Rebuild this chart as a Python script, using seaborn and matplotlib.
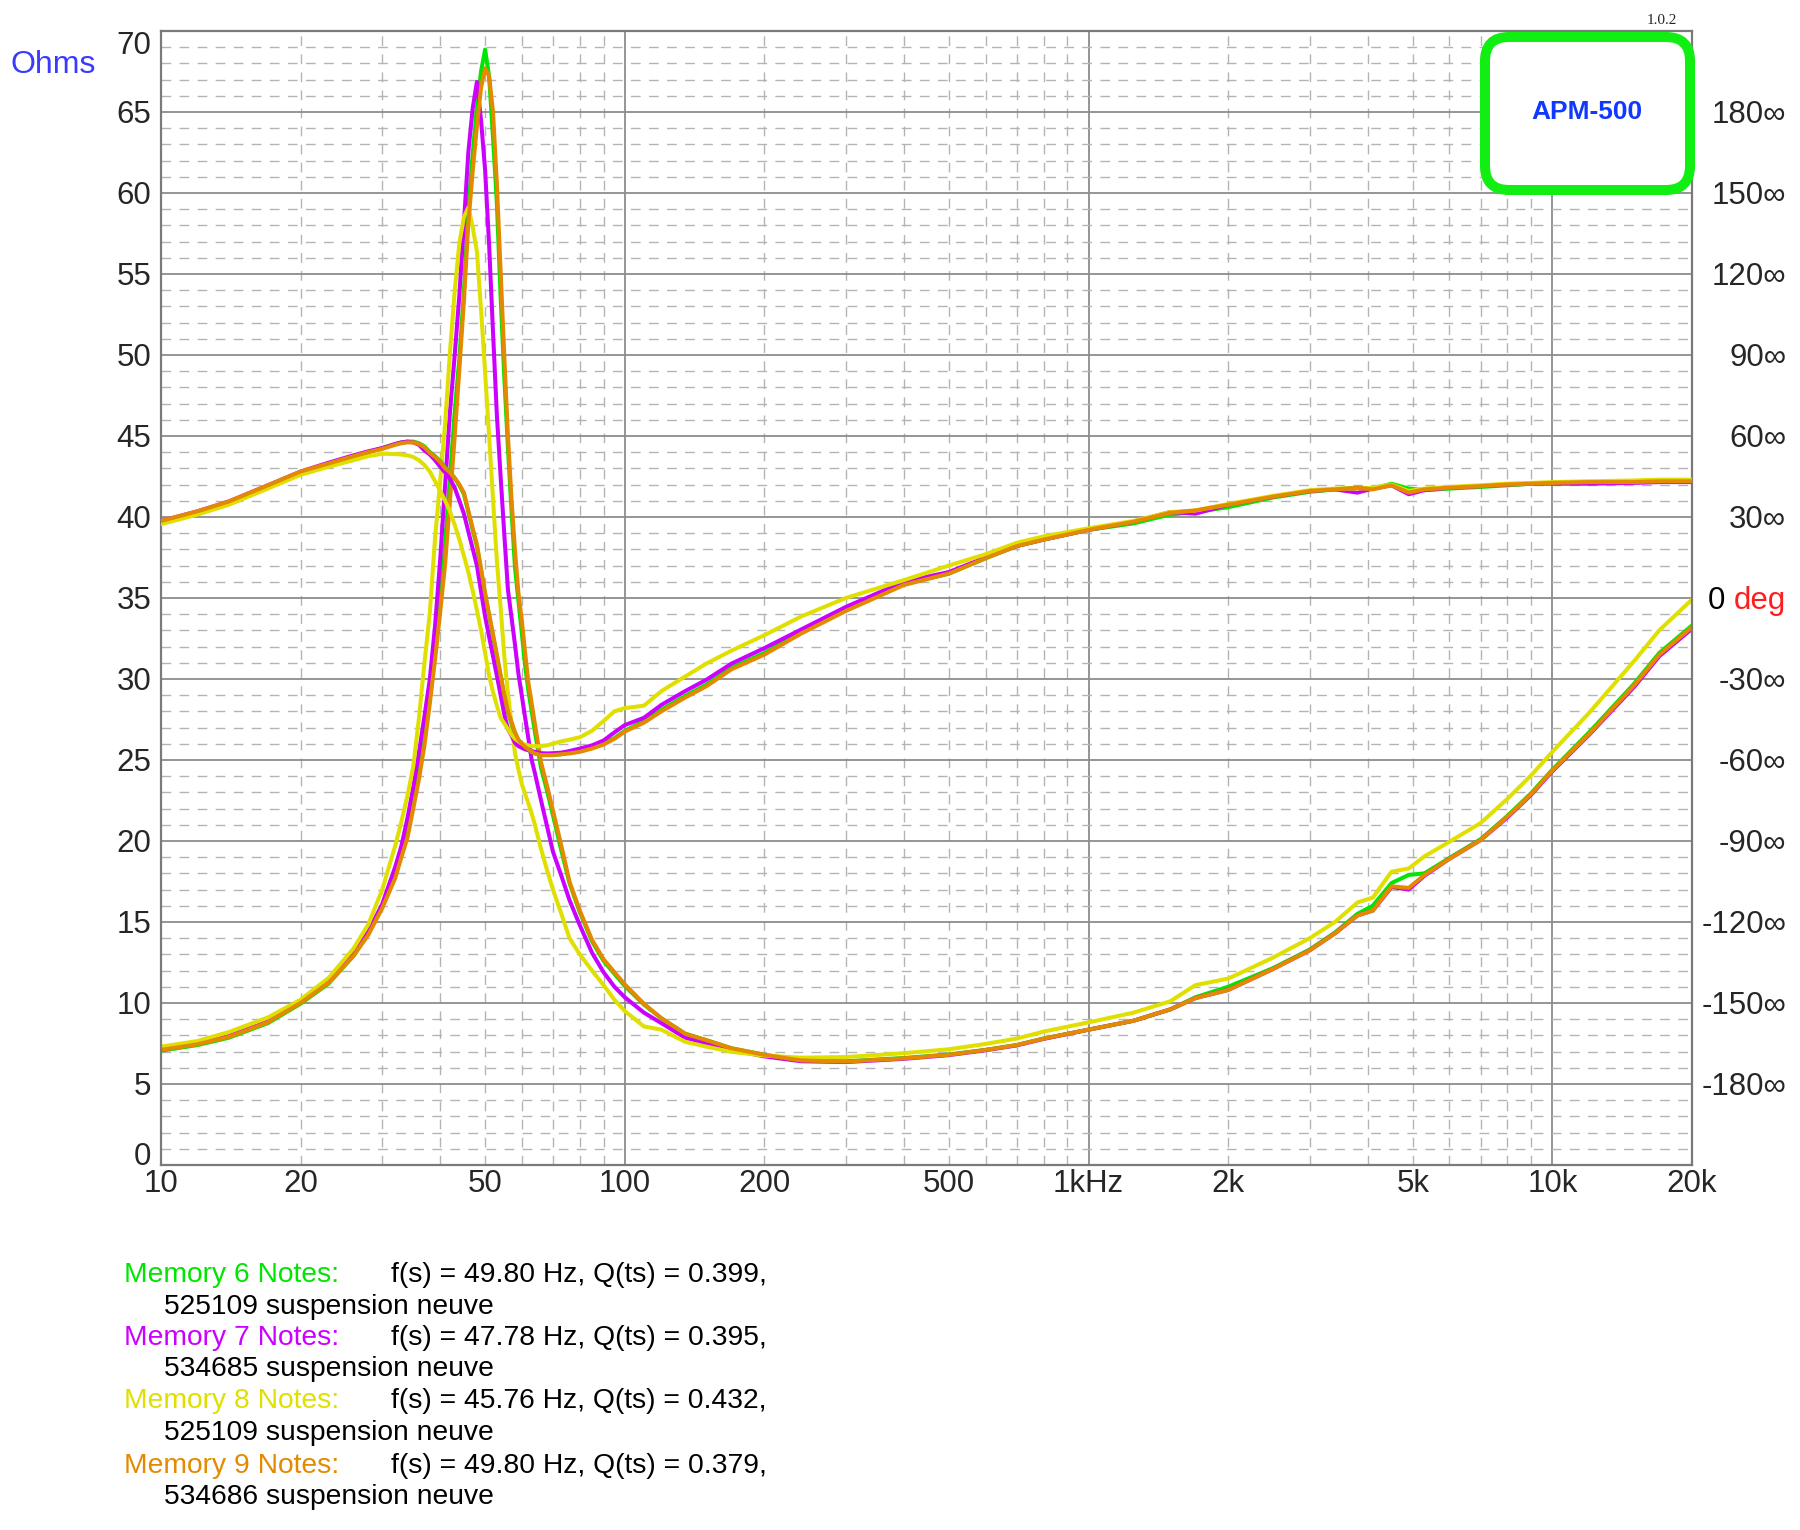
import numpy as np
import pandas as pd
import seaborn as sns
import matplotlib.pyplot as plt
from matplotlib.ticker import FixedLocator, FuncFormatter, MultipleLocator, LogLocator
from matplotlib.patches import FancyBboxPatch

# frequency points (Hz) shared by all memories
freq = [10, 12, 14, 17, 20, 23, 26, 28, 30, 32,
        33, 34, 35, 36, 37, 38, 39, 40, 41, 42,
        43, 44, 45, 46, 47, 48, 49, 50, 51, 52,
        53, 54, 55, 56, 57, 58, 59, 60, 61, 62,
        63, 64, 66, 68, 70, 73, 76, 80, 85, 90,
        95, 100, 110, 120, 135, 150, 170, 200, 240, 300,
        400, 500, 600, 700, 800, 1000, 1250, 1500, 1700, 2000,
        2500, 3000, 3400, 3800, 4100, 4500, 4900, 5300, 6000, 7000,
        8000, 9000, 10000, 12000, 15000, 17000, 20000]

# impedance magnitude (ohms)
mem6_ohms = [7.05, 7.4, 7.85, 8.75, 9.95, 11.2, 12.9, 14.3, 15.95, 17.9,
             19.2, 20.4, 22.2, 24.1, 26.2, 28.8, 31.6, 34.6, 38.4, 42.5,
             46.5, 49.8, 53.9, 59.0, 62.4, 65.3, 67.5, 68.85, 67.2, 63.4,
             59.4, 53.6, 48.6, 44.25, 40.4, 36.85, 34.8, 32.8, 30.8, 29.25,
             28.0, 26.75, 24.5, 23.1, 21.6, 19.4, 17.4, 15.6, 13.8, 12.6,
             11.8, 11.05, 9.9, 9.05, 8.1, 7.7, 7.2, 6.8, 6.45, 6.4,
             6.6, 6.82, 7.1, 7.4, 7.8, 8.35, 8.9, 9.6, 10.35, 11.0,
             12.15, 13.3, 14.35, 15.5, 16.0, 17.4, 17.9, 18.0, 18.95, 20.1,
             21.55, 22.95, 24.4, 26.7, 29.7, 31.6, 33.3]
mem7_ohms = [7.1, 7.5, 7.95, 8.85, 10.05, 11.35, 13.1, 14.4, 16.1, 18.4,
             19.7, 21.4, 23.3, 25.45, 27.7, 30.0, 33.3, 37.35, 42.0, 46.5,
             50.0, 53.7, 58.1, 62.5, 65.2, 66.85, 64.5, 61.4, 56.8, 51.4,
             46.3, 42.5, 38.9, 35.5, 33.8, 32.1, 30.3, 28.95, 27.6, 26.3,
             25.0, 24.2, 22.5, 20.9, 19.35, 17.85, 16.35, 14.8, 13.1, 11.9,
             11.0, 10.35, 9.4, 8.75, 7.85, 7.5, 7.1, 6.7, 6.4, 6.35,
             6.55, 6.78, 7.08, 7.38, 7.78, 8.35, 8.9, 9.6, 10.3, 10.8,
             12.1, 13.25, 14.3, 15.4, 15.7, 17.15, 17.0, 17.85, 18.9, 20.05,
             21.45, 22.85, 24.3, 26.55, 29.5, 31.4, 33.1]
mem8_ohms = [7.3, 7.65, 8.2, 9.1, 10.2, 11.55, 13.35, 14.85, 17.0, 19.7,
             21.2, 22.8, 24.6, 27.6, 31.0, 34.1, 38.7, 42.2, 45.8, 50.2,
             54.0, 56.9, 58.5, 59.1, 57.9, 56.4, 52.8, 48.9, 45.0, 41.1,
             37.3, 34.4, 31.4, 29.1, 27.2, 25.4, 24.4, 23.5, 22.9, 22.3,
             21.7, 21.0, 19.5, 18.2, 17.0, 15.5, 14.0, 13.0, 12.0, 11.1,
             10.2, 9.5, 8.55, 8.35, 7.6, 7.3, 6.98, 6.75, 6.62, 6.66,
             6.9, 7.14, 7.47, 7.8, 8.23, 8.8, 9.4, 10.1, 11.1, 11.5,
             12.8, 14.0, 15.0, 16.2, 16.5, 18.1, 18.3, 19.05, 19.95, 21.1,
             22.6, 24.05, 25.5, 27.9, 31.1, 33.0, 34.9]
mem9_ohms = [7.1, 7.45, 7.9, 8.8, 10.0, 11.25, 12.9, 14.2, 15.85, 17.7,
             19.0, 20.2, 22.0, 23.8, 25.9, 28.5, 31.2, 34.1, 37.1, 41.0,
             45.0, 49.1, 53.3, 58.1, 61.3, 64.1, 66.5, 67.7, 67.2, 65.0,
             60.6, 55.2, 49.9, 45.0, 41.1, 37.9, 35.3, 33.6, 31.6, 29.75,
             28.5, 27.25, 24.85, 23.4, 21.9, 19.7, 17.5, 15.7, 13.9, 12.7,
             11.9, 11.15, 9.95, 9.05, 8.1, 7.7, 7.2, 6.8, 6.45, 6.38,
             6.58, 6.8, 7.1, 7.4, 7.8, 8.35, 8.9, 9.6, 10.3, 10.8,
             12.1, 13.25, 14.3, 15.4, 15.7, 17.2, 17.1, 17.9, 18.9, 20.05,
             21.5, 22.9, 24.35, 26.6, 29.6, 31.5, 33.2]

# impedance phase (degrees)
mem6_deg = [28.2, 31.8, 35.4, 41.4, 46.5, 49.8, 52.5, 54.0, 55.5, 57.0,
            57.6, 57.9, 57.9, 57.3, 56.1, 54.0, 52.5, 50.7, 48.3, 46.5,
            44.4, 41.7, 38.4, 31.8, 25.2, 19.2, 10.2, 1.2, -6.6, -14.1,
            -21.6, -29.1, -36.6, -42.6, -46.5, -50.1, -52.8, -54.3, -55.5, -56.4,
            -57.0, -57.6, -58.2, -58.2, -58.2, -57.9, -57.3, -56.7, -55.5, -54.0,
            -51.9, -49.2, -45.6, -41.4, -36.3, -32.1, -25.8, -20.4, -12.6, -4.5,
            5.1, 9.0, 14.7, 19.2, 21.6, 25.2, 27.6, 30.9, 31.8, 33.6,
            37.2, 39.3, 40.2, 40.8, 40.5, 42.3, 40.5, 39.9, 40.5, 41.1,
            41.7, 42.3, 42.6, 42.9, 42.9, 43.2, 43.2]
mem7_deg = [28.5, 32.1, 35.7, 41.7, 46.8, 50.1, 52.8, 54.3, 55.5, 57.0,
            57.6, 57.9, 57.6, 56.7, 54.6, 53.1, 51.0, 48.6, 46.5, 44.1,
            40.8, 36.0, 31.2, 24.6, 18.3, 12.0, 2.4, -6.9, -14.4, -21.6,
            -28.8, -36.0, -43.2, -48.6, -51.0, -53.7, -54.9, -55.5, -56.1, -56.4,
            -56.7, -57.0, -57.5, -57.6, -57.5, -57.3, -56.7, -55.8, -54.6, -52.8,
            -49.8, -47.1, -44.4, -39.6, -34.5, -30.3, -24.3, -18.6, -11.7, -3.3,
            6.0, 9.6, 15.0, 19.2, 21.6, 25.2, 28.2, 31.8, 31.2, 34.5,
            37.5, 39.6, 40.2, 39.0, 40.5, 41.7, 38.4, 39.9, 40.8, 41.4,
            42.0, 42.3, 42.3, 42.3, 42.6, 42.9, 42.9]
mem8_deg = [27.3, 30.9, 34.5, 40.5, 45.6, 48.6, 51.0, 52.5, 53.4, 53.3,
            53.1, 52.8, 52.2, 51.0, 49.2, 46.8, 43.2, 39.6, 36.0, 32.1,
            27.0, 21.6, 15.6, 9.6, 2.7, -4.5, -12.0, -20.4, -28.8, -34.8,
            -39.9, -44.4, -46.5, -48.6, -50.7, -52.2, -53.1, -54.0, -54.3, -54.6,
            -54.9, -54.9, -54.9, -54.6, -54.0, -53.1, -52.5, -51.6, -49.2, -45.6,
            -42.0, -40.8, -39.9, -34.5, -29.1, -24.3, -19.5, -13.8, -6.9, 0.0,
            6.6, 12.0, 16.2, 20.4, 22.8, 25.8, 28.5, 31.8, 32.4, 34.8,
            37.8, 39.9, 40.5, 40.5, 40.8, 42.0, 39.6, 40.5, 41.1, 41.7,
            42.3, 42.6, 42.9, 43.2, 43.5, 43.8, 43.8]
mem9_deg = [28.5, 32.1, 35.7, 41.7, 46.8, 49.8, 52.5, 54.0, 55.2, 56.7,
            57.3, 57.6, 57.6, 57.0, 55.8, 53.7, 52.2, 50.4, 48.0, 46.5,
            44.4, 42.0, 39.0, 32.4, 25.8, 19.8, 10.8, 1.8, -6.0, -13.5,
            -21.0, -28.5, -36.0, -42.0, -45.9, -49.8, -52.5, -54.0, -55.2, -56.1,
            -57.0, -57.6, -58.2, -58.2, -58.2, -57.9, -57.6, -57.0, -55.8, -54.3,
            -52.2, -49.5, -46.2, -42.0, -36.9, -32.7, -26.4, -21.0, -13.2, -4.8,
            4.8, 9.0, 14.7, 19.2, 21.6, 25.2, 28.2, 31.5, 32.4, 34.5,
            37.5, 39.6, 40.2, 40.8, 40.2, 41.7, 39.0, 40.2, 40.8, 41.4,
            42.0, 42.3, 42.6, 42.9, 42.9, 43.2, 43.2]

memories = ["Memory 6", "Memory 7", "Memory 8", "Memory 9"]
colors = ["#00e600", "#cc00ff", "#e0e000", "#e38a00"]
fs_notes = ["f(s) = 49.80 Hz, Q(ts) = 0.399,",
            "f(s) = 47.78 Hz, Q(ts) = 0.395,",
            "f(s) = 45.76 Hz, Q(ts) = 0.432,",
            "f(s) = 49.80 Hz, Q(ts) = 0.379,"]
sample_notes = ["525109 suspension neuve", "534685 suspension neuve",
                "525109 suspension neuve", "534686 suspension neuve"]

x_labels = {10: "10", 20: "20", 50: "50", 100: "100", 200: "200", 500: "500",
            1000: "1kHz", 2000: "2k", 5000: "5k", 10000: "10k", 20000: "20k"}
ohm_ticks = list(range(0, 71, 5))
deg_ticks = list(range(-180, 181, 30))

# long tables for seaborn
n = len(freq)
mag_df = pd.DataFrame({
    "freq": freq * 4,
    "ohms": mem6_ohms + mem7_ohms + mem8_ohms + mem9_ohms,
    "memory": np.repeat(memories, n),
})
phase_df = pd.DataFrame({
    "freq": freq * 4,
    "deg": mem6_deg + mem7_deg + mem8_deg + mem9_deg,
    "memory": np.repeat(memories, n),
})
palette = dict(zip(memories, colors))

sns.set_style("white")
plt.rcParams["font.family"] = ["Liberation Sans", "DejaVu Sans"]

fig = plt.figure(figsize=(18, 15.3), dpi=100)
ax = fig.add_axes([0.0894, 0.2386, 0.8506, 0.7412])
ax.set_xscale("log")
ax2 = ax.twinx()

sns.lineplot(data=mag_df, x="freq", y="ohms", hue="memory", hue_order=memories,
             palette=palette, estimator=None, linewidth=2.9, legend=False, ax=ax)
sns.lineplot(data=phase_df, x="freq", y="deg", hue="memory", hue_order=memories,
             palette=palette, estimator=None, linewidth=2.9, legend=False, ax=ax2)

ax.set_xlim(10, 20000)
ax.set_ylim(0, 70)
ax2.set_ylim(-210, 210)
ax.set_xlabel("")
ax.set_ylabel("")
ax2.set_ylabel("")

# x axis: decades solid, 2..9 dashed
ax.xaxis.set_major_locator(LogLocator(base=10, numticks=20))
ax.xaxis.set_minor_locator(LogLocator(base=10, subs=np.arange(2, 10), numticks=60))
xfmt = FuncFormatter(lambda v, p: x_labels.get(int(round(v)), ""))
ax.xaxis.set_major_formatter(xfmt)
ax.xaxis.set_minor_formatter(xfmt)

ax.yaxis.set_major_locator(FixedLocator(ohm_ticks))
ax.yaxis.set_minor_locator(MultipleLocator(1))
ax.yaxis.set_major_formatter(FuncFormatter(lambda v, p: f"{int(v)}"))

ax.tick_params(axis="x", which="both", length=0, labelsize=22.5, pad=3)
ax.tick_params(axis="y", which="both", length=0, labelsize=22.5, pad=7)

ax.grid(which="major", color="#8c8c8c", linewidth=1.3, linestyle="-")
ax.grid(which="minor", color="#b4b4b4", linewidth=1.0, linestyle=(0, (7, 6)))
ax.set_axisbelow(True)

# end labels sit inside the frame
yt = ax.yaxis.get_major_ticks()
yt[0].label1.set_verticalalignment("baseline")
yt[-1].label1.set_verticalalignment("top")

for sp in ax.spines.values():
    sp.set_color("#7a7a7a")
    sp.set_linewidth(1.6)
for sp in ax2.spines.values():
    sp.set_visible(False)

# phase axis on the right
ax2.yaxis.set_major_locator(FixedLocator(deg_ticks))
ax2.yaxis.set_major_formatter(FuncFormatter(lambda v, p: "" if v == 0 else f"{int(v)}\u221e"))
ax2.tick_params(axis="y", length=0, labelsize=22.5, pad=67.7)
for tk in ax2.yaxis.get_major_ticks():
    tk.label2.set_horizontalalignment("right")

ax2.annotate("deg", xy=(1, 0), xycoords=("axes fraction", "data"),
             xytext=(67.7, 0), textcoords="offset points",
             ha="right", va="center_baseline", fontsize=22.5, color="#ff1e1e")
ax2.annotate("0", xy=(1, 0), xycoords=("axes fraction", "data"),
             xytext=(24.0, 0), textcoords="offset points",
             ha="right", va="center_baseline", fontsize=22.5, color="black")

fig.text(11 / 1800, 1 - 65 / 1530, "Ohms", fontsize=23, color="#3a3aff",
         ha="left", va="center")
fig.text(1662 / 1800, 1 - 20 / 1530, "1.0.2", fontsize=11,
         family=["Liberation Serif", "DejaVu Serif"], ha="center", va="center")

# model badge
badge = FancyBboxPatch((14.85, 13.40), 2.05, 1.53,
                       boxstyle="round,pad=0,rounding_size=0.24",
                       transform=fig.dpi_scale_trans, facecolor="white",
                       edgecolor="#11ee11", linewidth=7.2, zorder=5)
fig.patches.append(badge)
fig.text(15.87 / 18, 1 - 112 / 1530, "APM-500", fontsize=19, fontweight="bold",
         color="#1038ff", ha="center", va="center", zorder=6)

# notes under the chart
note_rows = [1275, 1338, 1401, 1466]
for i, m in enumerate(memories):
    y1 = 1 - note_rows[i] / 1530
    y2 = 1 - (note_rows[i] + 31.5) / 1530
    fig.text(124 / 1800, y1, m + " Notes:", fontsize=20.3, color=colors[i],
             ha="left", va="center")
    fig.text(391 / 1800, y1, fs_notes[i], fontsize=20.3, color="black",
             ha="left", va="center")
    fig.text(164 / 1800, y2, sample_notes[i], fontsize=20.3, color="black",
             ha="left", va="center")

fig.savefig("out.png", dpi=100)
